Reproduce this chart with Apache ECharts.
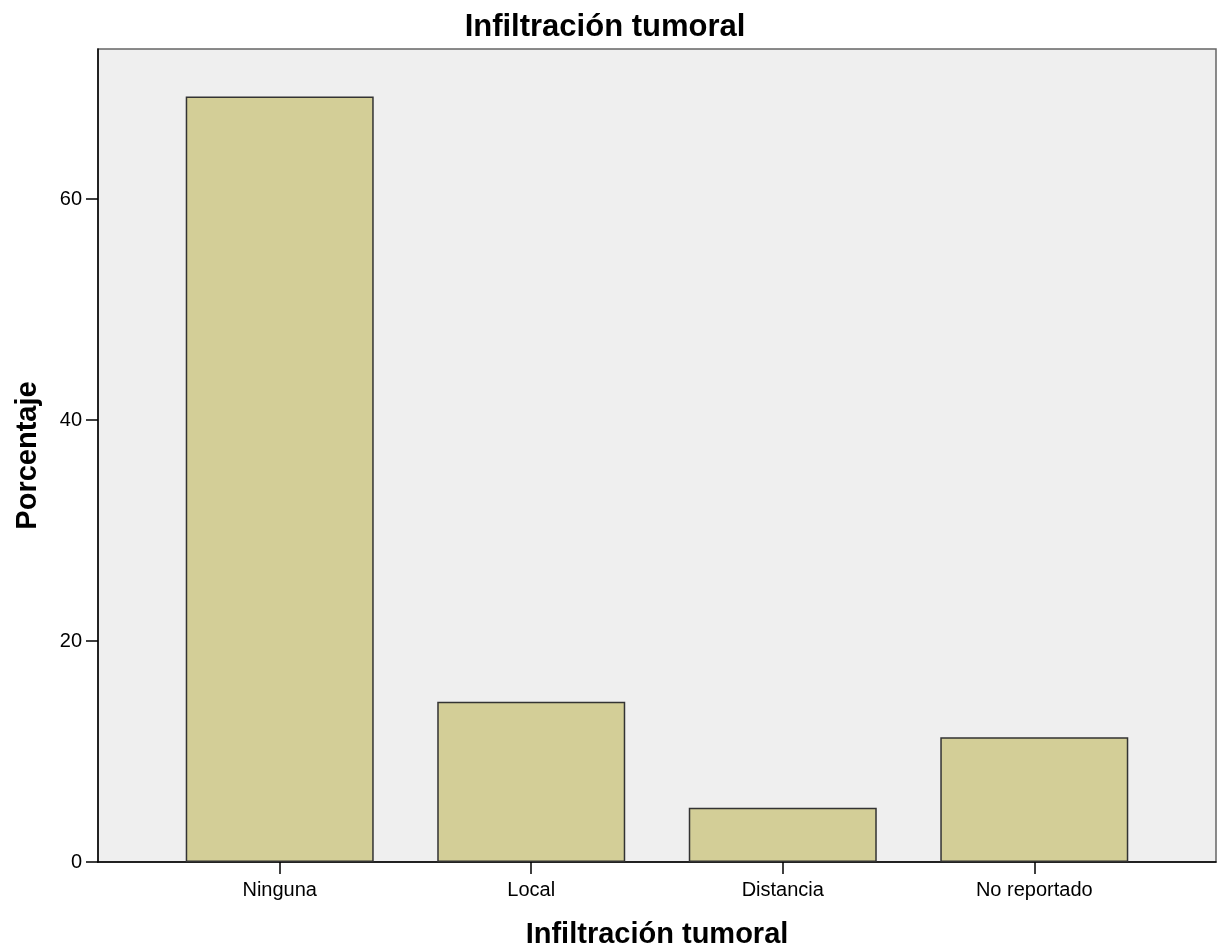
<!DOCTYPE html>
<html>
<head>
<meta charset="utf-8">
<script src="https://cdn.jsdelivr.net/npm/echarts@6/dist/echarts.min.js"></script>
<style>
html,body{margin:0;padding:0;background:#fff;overflow:hidden;}
#chart{width:1217px;height:951px;}
</style>
</head>
<body>
<div id="chart"></div>
<script>
var categories = ['Ninguna', 'Local', 'Distancia', 'No reportado'];
var percentages = [69.3, 14.5, 4.9, 11.3];
var yTicks = [0, 20, 40, 60];

var FONT = '"Liberation Sans", Arial, sans-serif';
var catIdx = categories.map(function (c, i) { return i; });
var seriesData = percentages.map(function (v, i) { return [i, v]; });

var chart = echarts.init(document.getElementById('chart'), null, {renderer: 'canvas'});
chart.setOption({
  animation: false,
  backgroundColor: '#ffffff',
  title: {
    text: 'Infiltración tumoral',
    left: 600,
    textAlign: 'center',
    top: 7,
    textStyle: {fontFamily: FONT, fontSize: 31, fontWeight: 'bold', color: '#000'}
  },
  grid: {
    left: 98, right: 1, top: 49, bottom: 89,
    show: true,
    backgroundColor: '#efefef',
    borderColor: '#666',
    borderWidth: 1.5,
    containLabel: false,
    outerBoundsMode: 'none'
  },
  xAxis: {
    type: 'value',
    min: -0.7225,
    max: 3.7225,
    name: 'Infiltración tumoral',
    nameLocation: 'middle',
    nameGap: 58,
    nameTextStyle: {fontFamily: FONT, fontSize: 29, fontWeight: 'bold', color: '#000'},
    axisLine: {show: true, onZero: false, lineStyle: {color: '#000', width: 1.5}},
    axisTick: {show: true, length: 12, customValues: catIdx, lineStyle: {color: '#000', width: 1.5}},
    axisLabel: {
      customValues: catIdx,
      margin: 18,
      fontFamily: FONT, fontSize: 20, color: '#000',
      formatter: function (v) { return categories[Math.round(v)] || ''; }
    },
    splitLine: {show: false}
  },
  yAxis: {
    type: 'value',
    min: 0,
    max: 73.6,
    name: 'Porcentaje',
    nameLocation: 'middle',
    nameGap: 56,
    nameRotate: 90,
    nameTextStyle: {fontFamily: FONT, fontSize: 29, fontWeight: 'bold', color: '#000'},
    axisLine: {show: true, onZero: false, lineStyle: {color: '#000', width: 1.5}},
    axisTick: {show: true, length: 12, customValues: yTicks, lineStyle: {color: '#000', width: 1.5}},
    axisLabel: {
      customValues: yTicks,
      margin: 16,
      padding: [5, 0, 0, 0],
      fontFamily: FONT, fontSize: 20, color: '#000'
    },
    splitLine: {show: false}
  },
  series: [{
    type: 'bar',
    data: seriesData,
    barWidth: 188,
    itemStyle: {color: '#d3ce97', borderColor: '#333', borderWidth: 1.5}
  }]
});
</script>
</body>
</html>
